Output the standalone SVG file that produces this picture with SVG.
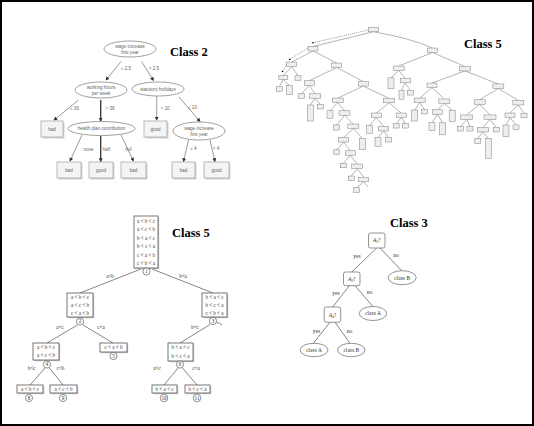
<svg xmlns="http://www.w3.org/2000/svg" width="534" height="426" viewBox="0 0 534 426">
<style>
.title{font-family:"Liberation Serif",serif;font-weight:bold;font-size:12.5px;fill:#000}
.c2t{font-family:"Liberation Sans",sans-serif;font-size:4.6px;fill:#666;text-anchor:middle}
.c2e{fill:#fff;stroke:#888;stroke-width:0.8}
.c2b{fill:#f4f4f4;stroke:#aaa;stroke-width:0.8}
.c2s{fill:#d4d4d4}
.c2l{stroke:#555;stroke-width:0.6;fill:none;marker-end:url(#arr)}
.c2k{stroke:#333;stroke-width:1.3;fill:none;marker-end:url(#arr)}
.t5 rect{fill:#eeeeee;stroke:#8a8a8a;stroke-width:0.55}
.t5e{stroke:#6a6a6a;stroke-width:0.5;fill:none}
.t5d{stroke:#555;stroke-width:0.6;stroke-dasharray:1 1;fill:none}
.st{font-family:"Liberation Serif",serif;font-size:5.1px;fill:#333;text-anchor:middle}
.sb{fill:#fff;stroke:#555;stroke-width:0.8}
.ss{fill:#c8c8c8}
.sc{fill:#fff;stroke:#444;stroke-width:0.6}
.sl{stroke:#444;stroke-width:0.65;fill:none}
.c3t{font-family:"Liberation Serif",serif;font-size:5.5px;fill:#333;text-anchor:middle}
.c3b{fill:#fff;stroke:#666;stroke-width:0.7}
.c3l{stroke:#333;stroke-width:0.6;fill:none}
</style>
<defs>
<marker id="arr" viewBox="0 0 6 6" refX="5" refY="3" markerWidth="4" markerHeight="4" orient="auto" markerUnits="userSpaceOnUse">
<path d="M0,0 L6,3 L0,6 z" fill="#333"/>
</marker>
</defs>
<rect x="1" y="1" width="532" height="424" fill="#fff" stroke="#000" stroke-width="2"/>

<!-- ============ Class 2 ============ -->
<text class="title" x="170" y="56">Class 2</text>
<g id="c2-edges">
<line class="c2l" x1="121" y1="61.5" x2="106" y2="80"/>
<line class="c2l" x1="141.5" y1="61.5" x2="153.5" y2="80.5"/>
<line class="c2l" x1="78.5" y1="100" x2="54" y2="120"/>
<line class="c2k" x1="100.7" y1="100" x2="100.7" y2="121"/>
<line class="c2l" x1="156.7" y1="96" x2="156.7" y2="120"/>
<line class="c2l" x1="179" y1="97" x2="200" y2="121.5"/>
<line class="c2l" x1="82" y1="135" x2="70" y2="161"/>
<line class="c2k" x1="100.7" y1="136" x2="100.7" y2="161.5"/>
<line class="c2l" x1="121" y1="135" x2="133.5" y2="161"/>
<line class="c2l" x1="188.5" y1="140" x2="183.5" y2="161.5"/>
<line class="c2l" x1="210" y1="140" x2="215" y2="161.5"/>
<text class="c2t" x="126" y="69.5">≤ 2.5</text>
<text class="c2t" x="154" y="69.5">&gt; 2.5</text>
<text class="c2t" x="74.5" y="109.5">≤ 36</text>
<text class="c2t" x="110" y="109.5">&gt; 36</text>
<text class="c2t" x="165" y="109.5">&gt; 10</text>
<text class="c2t" x="192.5" y="109">≤ 10</text>
<text class="c2t" x="88.5" y="150.5">none</text>
<text class="c2t" x="106.5" y="150.5">half</text>
<text class="c2t" x="128.5" y="150.5">full</text>
<text class="c2t" x="193.5" y="150">≤ 4</text>
<text class="c2t" x="216" y="150">&gt; 4</text>
</g>
<g id="c2-root"><ellipse class="c2e" cx="130" cy="49" rx="26" ry="8"/><text class="c2t" x="130" y="47.5">wage increase</text><text class="c2t" x="130" y="54">first year</text></g>
<g id="c2-hours"><ellipse class="c2e" cx="101" cy="90" rx="26" ry="8"/><text class="c2t" x="101" y="88.5">working hours</text><text class="c2t" x="101" y="95">per week</text></g>
<g id="c2-holidays"><ellipse class="c2e" cx="158" cy="89" rx="26" ry="7"/><text class="c2t" x="158" y="90.5">statutory holidays</text></g>
<g id="c2-bad1"><rect class="c2s" x="42.5" y="122.5" width="22" height="16"/><rect class="c2b" x="41" y="121" width="22" height="16"/><text class="c2t" x="52" y="130.5" font-size="5.2">bad</text></g>
<g id="c2-health"><ellipse class="c2e" cx="101.5" cy="128.5" rx="33.5" ry="7"/><text class="c2t" x="101.5" y="130">health plan contribution</text></g>
<g id="c2-good1"><rect class="c2s" x="145.5" y="122.5" width="23" height="16"/><rect class="c2b" x="144" y="121" width="23" height="16"/><text class="c2t" x="155.5" y="130.5" font-size="5.2">good</text></g>
<g id="c2-wage2"><ellipse class="c2e" cx="199" cy="131" rx="26" ry="9"/><text class="c2t" x="199" y="129.5">wage increase</text><text class="c2t" x="199" y="136">first year</text></g>
<g id="c2-bad2"><rect class="c2s" x="58.5" y="163.5" width="24" height="16"/><rect class="c2b" x="57" y="162" width="24" height="16"/><text class="c2t" x="69" y="171.5" font-size="5.2">bad</text></g>
<g id="c2-good2"><rect class="c2s" x="90.5" y="163.5" width="24" height="16"/><rect class="c2b" x="89" y="162" width="24" height="16"/><text class="c2t" x="101" y="171.5" font-size="5.2">good</text></g>
<g id="c2-bad3"><rect class="c2s" x="122.5" y="163.5" width="25" height="16"/><rect class="c2b" x="121" y="162" width="25" height="16"/><text class="c2t" x="133.5" y="171.5" font-size="5.2">bad</text></g>
<g id="c2-bad4"><rect class="c2s" x="173.5" y="163.5" width="23" height="16"/><rect class="c2b" x="172" y="162" width="23" height="16"/><text class="c2t" x="183.5" y="171.5" font-size="5.2">bad</text></g>
<g id="c2-good3"><rect class="c2s" x="205.5" y="163.5" width="25" height="16"/><rect class="c2b" x="204" y="162" width="25" height="16"/><text class="c2t" x="216.5" y="171.5" font-size="5.2">good</text></g>

<!-- ============ Class 5 (top right) ============ -->
<text class="title" x="464" y="48">Class 5</text>
<g id="t5-edges">
<path class="t5d" d="M368.5,30 L313,42.7 M308,48 L289.7,59.5 M286.7,64.5 L282.5,71.5"/>
<circle cx="313" cy="42.7" r="0.8" fill="#000"/>
<circle cx="289.7" cy="59.5" r="0.8" fill="#000"/>
<circle cx="282.5" cy="71.5" r="0.8" fill="#000"/>
<path class="t5e" d="
M373.5,31.75 L313,46.45 M373.5,31.75 Q410,38 432.5,48.05
M313,50.95 L291.7,62.05 M313,50.95 L336.7,63.05
M291.7,66.55 L283.3,75.5 M291.7,66.55 L298,75.75
M283.3,79.5 L279.3,86.75 M283.3,79.5 L289.5,85.5
M336.7,67.55 L309.3,80.75 M336.7,67.55 L363.3,81.55
M309.3,85.25 L301.7,93.75 M309.3,85.25 L315,93.75
M315,98.25 L310.3,105 M315,98.25 L320.3,104.45
M363.3,86.05 L337.8,98.05 M363.3,86.05 L389,98.25
M337.8,102.55 L330,110.75 M337.8,102.55 L344.5,110.75
M344.5,115.25 L336.7,125 M344.5,115.25 L353.3,124.05
M353.3,128.55 L343.7,137.55 M353.3,128.55 L362.3,138.3
M343.7,142.05 L336.7,149.75 M343.7,142.05 L350.3,150.75
M350.3,155.25 L343.3,163.25 M350.3,155.25 L357.2,164.05
M357.2,168.55 L351.3,176.05 M357.2,168.55 L363.7,177.25
M363.7,181.75 L356.7,187.75 M363.7,181.75 L368,187
M389,102.75 L376.3,113.05 M389,102.75 L401.3,113.05
M376.3,117.55 L369.7,125.2 M376.3,117.55 L383.7,126.45
M383.7,130.95 L378,137.5 M383.7,130.95 L388.7,137.55
M401.3,117.55 L396.2,123.55 M401.3,117.55 L405.3,123.55
M432.5,52.55 L398.7,66.05 M432.5,52.55 L465,66.45
M398.7,70.55 L391,77.8 M398.7,70.55 L405.3,78.25
M405.3,82.75 L401.5,90.2 M405.3,82.75 L410.3,90.55
M465,70.95 L432,83.05 M465,70.95 L498.3,83.95
M432,87.55 L419.7,98.05 M432,87.55 L444.3,98.95
M419.7,102.55 L414.7,110 M419.7,102.55 L424.5,109.45
M444.3,103.45 L437.5,109.75 M444.3,103.45 L452.2,110.3
M437.5,114.25 L432,122.7 M437.5,114.25 L442.5,122.8
M498.3,88.45 L479.7,99.75 M498.3,88.45 L518.3,100.45
M479.7,104.25 L466.7,114.95 M479.7,104.25 L490,114.95
M466.7,119.45 L460.7,126.55 M466.7,119.45 L470,126.55
M490,119.45 L482.8,127.45 M490,119.45 L496.3,127.45
M482.8,131.95 L477.8,138.3 M482.8,131.95 L488.3,138.3
M518.3,104.95 L510,113.05 M518.3,104.95 L524,113.25
M510,117.55 L506,125.05 M510,117.55 L516,124.95"/>
</g>
<g class="t5">
<g id="t5-R"><rect x="368.5" y="27.25" width="10" height="4.5"/></g>
<g id="t5-A"><rect x="308" y="46.45" width="10" height="4.5"/></g>
<g id="t5-B"><rect x="427.5" y="48.05" width="10" height="4.5"/></g>
<g id="t5-A1"><rect x="286.7" y="62.05" width="10" height="4.5"/></g>
<g id="t5-A2"><rect x="331.7" y="63.05" width="10" height="4.5"/></g>
<g id="t5-A1a"><rect x="278.8" y="75.5" width="9" height="4"/></g>
<g id="t5-A1b"><rect x="295" y="75.75" width="6" height="4.5"/></g>
<g id="t5-A1al"><rect x="276.3" y="86.75" width="6" height="4.5"/></g>
<g id="t5-A1ar"><rect x="286.5" y="85.5" width="6" height="9"/></g>
<g id="t5-A2a"><rect x="304.3" y="80.75" width="10" height="4.5"/></g>
<g id="t5-A2b"><rect x="358.3" y="81.55" width="10" height="4.5"/></g>
<g id="t5-A2al"><rect x="298.7" y="93.75" width="6" height="4.5"/></g>
<g id="t5-A2a2"><rect x="309.5" y="93.75" width="11" height="4.5"/></g>
<g id="t5-A2a2l"><rect x="307.3" y="105" width="6" height="16"/></g>
<g id="t5-A2a2r"><rect x="317.3" y="104.45" width="6" height="4.5"/></g>
<g id="t5-A2b1"><rect x="332.3" y="98.05" width="11" height="4.5"/></g>
<g id="t5-A2b2"><rect x="383.5" y="98.25" width="11" height="4.5"/></g>
<g id="t5-A2b1l"><rect x="327" y="110.75" width="6" height="7.5"/></g>
<g id="t5-A2b1b"><rect x="339" y="110.75" width="11" height="4.5"/></g>
<g id="t5-A2b1bl"><rect x="333.7" y="125" width="6" height="5"/></g>
<g id="t5-A2b1b2"><rect x="347.8" y="124.05" width="11" height="4.5"/></g>
<g id="t5-N1"><rect x="338.7" y="137.55" width="10" height="4.5"/></g>
<g id="t5-N1r"><rect x="359.3" y="138.3" width="6" height="11"/></g>
<g id="t5-N1l"><rect x="333.7" y="149.75" width="6" height="4.5"/></g>
<g id="t5-N2"><rect x="345.3" y="150.75" width="10" height="4.5"/></g>
<g id="t5-N2l"><rect x="340.3" y="163.25" width="6" height="4.5"/></g>
<g id="t5-N3"><rect x="351.7" y="164.05" width="11" height="4.5"/></g>
<g id="t5-N3l"><rect x="348.3" y="176.05" width="6" height="4.5"/></g>
<g id="t5-N4"><rect x="358.7" y="177.25" width="10" height="4.5"/></g>
<g id="t5-N4l"><rect x="353.7" y="187.75" width="6" height="4.5"/></g>
<g id="t5-M1"><rect x="371.3" y="113.05" width="10" height="4.5"/></g>
<g id="t5-M2"><rect x="396.3" y="113.05" width="10" height="4.5"/></g>
<g id="t5-M1l"><rect x="366.7" y="125.2" width="6" height="8"/></g>
<g id="t5-M1r"><rect x="378.7" y="126.45" width="10" height="4.5"/></g>
<g id="t5-M3l"><rect x="375" y="137.5" width="6" height="9"/></g>
<g id="t5-M3r"><rect x="385.7" y="137.55" width="6" height="4.5"/></g>
<g id="t5-M2l"><rect x="393.2" y="123.55" width="6" height="4.5"/></g>
<g id="t5-M2r"><rect x="402.3" y="123.55" width="6" height="4.5"/></g>
<g id="t5-B1"><rect x="393.2" y="66.05" width="11" height="4.5"/></g>
<g id="t5-B1l"><rect x="388" y="77.8" width="6" height="11"/></g>
<g id="t5-B1b"><rect x="400.3" y="78.25" width="10" height="4.5"/></g>
<g id="t5-B1bl"><rect x="399" y="90.2" width="5" height="9"/></g>
<g id="t5-B1br"><rect x="407.3" y="90.55" width="6" height="4.5"/></g>
<g id="t5-B2"><rect x="459.5" y="66.45" width="11" height="4.5"/></g>
<g id="t5-B2a"><rect x="427" y="83.05" width="10" height="4.5"/></g>
<g id="t5-B2b"><rect x="492.8" y="83.95" width="11" height="4.5"/></g>
<g id="t5-C1"><rect x="414.2" y="98.05" width="11" height="4.5"/></g>
<g id="t5-C2"><rect x="438.8" y="98.95" width="11" height="4.5"/></g>
<g id="t5-C1l"><rect x="411.7" y="110" width="6" height="11"/></g>
<g id="t5-C1r"><rect x="421.5" y="109.45" width="6" height="4.5"/></g>
<g id="t5-C3"><rect x="432.5" y="109.75" width="10" height="4.5"/></g>
<g id="t5-C2r"><rect x="449.2" y="110.3" width="6" height="11"/></g>
<g id="t5-C3l"><rect x="429" y="122.7" width="6" height="8"/></g>
<g id="t5-C3r"><rect x="439.5" y="122.8" width="6" height="12"/></g>
<g id="t5-D1"><rect x="474.2" y="99.75" width="11" height="4.5"/></g>
<g id="t5-D2"><rect x="512.8" y="100.45" width="11" height="4.5"/></g>
<g id="t5-D3"><rect x="460.7" y="114.95" width="12" height="4.5"/></g>
<g id="t5-D4"><rect x="484" y="114.95" width="12" height="4.5"/></g>
<g id="t5-D3l"><rect x="457.7" y="126.55" width="6" height="4.5"/></g>
<g id="t5-D3r"><rect x="467" y="126.55" width="6" height="4.5"/></g>
<g id="t5-D5"><rect x="477.3" y="127.45" width="11" height="4.5"/></g>
<g id="t5-D4r"><rect x="493.3" y="127.45" width="6" height="4.5"/></g>
<g id="t5-D5l"><rect x="474.8" y="138.3" width="6" height="5"/></g>
<g id="t5-D5r"><rect x="485.3" y="138.3" width="6" height="20"/></g>
<g id="t5-D6"><rect x="505" y="113.05" width="10" height="4.5"/></g>
<g id="t5-D2r"><rect x="521" y="113.25" width="6" height="4.5"/></g>
<g id="t5-D6l"><rect x="503" y="125.05" width="6" height="11.5"/></g>
<g id="t5-D6r"><rect x="513" y="124.95" width="6" height="4.5"/></g>
</g>

<!-- ============ Class 5 (bottom left) ============ -->
<text class="title" x="172" y="237">Class 5</text>
<g id="s-edges">
<line class="sl" x1="141" y1="269" x2="80" y2="293"/>
<line class="sl" x1="152" y1="269" x2="213" y2="293"/>
<line class="sl" x1="77.5" y1="325" x2="47" y2="343"/>
<line class="sl" x1="83" y1="325" x2="113" y2="343"/>
<line class="sl" x1="210" y1="324.5" x2="180" y2="343"/>
<path class="sl" d="M216.5,322.5 Q219.5,322.5 222,325"/>
<line class="sl" x1="45" y1="368" x2="30" y2="385"/>
<line class="sl" x1="49.5" y1="368" x2="63" y2="385"/>
<line class="sl" x1="178" y1="368" x2="164" y2="385"/>
<line class="sl" x1="182.5" y1="368" x2="197" y2="385"/>
<text class="st" x="110" y="278">a&lt;b</text>
<text class="st" x="183" y="278">b&lt;a</text>
<text class="st" x="60" y="328.5">a&lt;c</text>
<text class="st" x="101" y="328.5">c&lt;a</text>
<text class="st" x="195" y="328.5">b&lt;c</text>
<text class="st" x="31.5" y="370">b&lt;c</text>
<text class="st" x="60.5" y="370">c&lt;b</text>
<text class="st" x="157" y="370">a&lt;c</text>
<text class="st" x="196" y="370">c&lt;a</text>
</g>
<g id="s-n1">
<rect class="ss" x="135.2" y="217.2" width="24" height="52"/>
<rect class="sb" x="134" y="216" width="24" height="52"/>
<text class="st" x="146" y="222.5">a &lt; b &lt; c</text>
<text class="st" x="146" y="231">a &lt; c &lt; b</text>
<text class="st" x="146" y="239.5">b &lt; a &lt; c</text>
<text class="st" x="146" y="248">b &lt; c &lt; a</text>
<text class="st" x="146" y="256.5">c &lt; a &lt; b</text>
<text class="st" x="146" y="265">c &lt; b &lt; a</text>
<circle class="sc" cx="146.5" cy="271.5" r="3.6"/><text class="st" x="146.5" y="273.2">1</text>
</g>
<g id="s-n2">
<rect class="ss" x="68.2" y="294.2" width="26" height="24"/>
<rect class="sb" x="67" y="293" width="26" height="24"/>
<text class="st" x="80" y="299">a &lt; b &lt; c</text>
<text class="st" x="80" y="306.5">a &lt; c &lt; b</text>
<text class="st" x="80" y="314.5">c &lt; a &lt; b</text>
<circle class="sc" cx="80" cy="321.5" r="3.6"/><text class="st" x="80" y="323.2">2</text>
</g>
<g id="s-n3">
<rect class="ss" x="203.2" y="294.2" width="25" height="24"/>
<rect class="sb" x="202" y="293" width="25" height="24"/>
<text class="st" x="214.5" y="299">b &lt; a &lt; c</text>
<text class="st" x="214.5" y="306.5">b &lt; c &lt; a</text>
<text class="st" x="214.5" y="314.5">c &lt; b &lt; a</text>
<circle class="sc" cx="213" cy="321" r="3.6"/><text class="st" x="213" y="322.7">3</text>
</g>
<g id="s-n4">
<rect class="ss" x="34.2" y="344.2" width="26" height="17"/>
<rect class="sb" x="33" y="343" width="26" height="17"/>
<text class="st" x="46" y="349">a &lt; b &lt; c</text>
<text class="st" x="46" y="357">a &lt; c &lt; b</text>
<circle class="sc" cx="47" cy="364.5" r="3.6"/><text class="st" x="47" y="366.2">4</text>
</g>
<g id="s-n5">
<rect class="ss" x="101.2" y="344.2" width="27" height="9"/>
<rect class="sb" x="100" y="343" width="27" height="9"/>
<text class="st" x="113.5" y="349.3">c &lt; a &lt; b</text>
<circle class="sc" cx="113.5" cy="356" r="3.6"/><text class="st" x="113.5" y="357.7">5</text>
</g>
<g id="s-n6">
<rect class="ss" x="169.2" y="344.2" width="25" height="18"/>
<rect class="sb" x="168" y="343" width="25" height="18"/>
<text class="st" x="180.5" y="349">b &lt; a &lt; c</text>
<text class="st" x="180.5" y="357.5">b &lt; c &lt; a</text>
<circle class="sc" cx="180" cy="364.5" r="3.6"/><text class="st" x="180" y="366.2">6</text>
</g>
<g id="s-n8">
<rect class="ss" x="18.2" y="386.2" width="26" height="8"/>
<rect class="sb" x="17" y="385" width="26" height="8"/>
<text class="st" x="30" y="390.8">a &lt; b &lt; c</text>
<circle class="sc" cx="29" cy="398" r="3.6"/><text class="st" x="29" y="399.7">8</text>
</g>
<g id="s-n9">
<rect class="ss" x="51.2" y="386.2" width="27" height="8"/>
<rect class="sb" x="50" y="385" width="27" height="8"/>
<text class="st" x="63.5" y="390.8">a &lt; c &lt; b</text>
<circle class="sc" cx="63" cy="398" r="3.6"/><text class="st" x="63" y="399.7">9</text>
</g>
<g id="s-n10">
<rect class="ss" x="153.2" y="386.2" width="25" height="8"/>
<rect class="sb" x="152" y="385" width="25" height="8"/>
<text class="st" x="164.5" y="390.8">b &lt; a &lt; c</text>
<circle class="sc" cx="164" cy="398" r="3.8"/><text class="st" x="164" y="399.7">10</text>
</g>
<g id="s-n11">
<rect class="ss" x="186.2" y="386.2" width="25" height="8"/>
<rect class="sb" x="185" y="385" width="25" height="8"/>
<text class="st" x="197.5" y="390.8">b &lt; c &lt; a</text>
<circle class="sc" cx="197" cy="398" r="3.8"/><text class="st" x="197" y="399.7">11</text>
</g>

<!-- ============ Class 3 ============ -->
<text class="title" x="390" y="227">Class 3</text>
<g id="c3-edges">
<line class="c3l" x1="376.7" y1="248" x2="351.7" y2="272"/>
<line class="c3l" x1="380" y1="248" x2="401.7" y2="270.7"/>
<line class="c3l" x1="349.3" y1="285.7" x2="332.7" y2="307"/>
<line class="c3l" x1="355" y1="285.7" x2="372.7" y2="306.3"/>
<line class="c3l" x1="330" y1="322.3" x2="313.3" y2="343.3"/>
<line class="c3l" x1="335" y1="322.3" x2="350" y2="343.3"/>
<text class="c3t" x="357" y="258">yes</text>
<text class="c3t" x="396" y="256.5">no</text>
<text class="c3t" x="336" y="294.5">yes</text>
<text class="c3t" x="369.5" y="294">no</text>
<text class="c3t" x="316.5" y="333">yes</text>
<text class="c3t" x="349.5" y="333">no</text>
</g>
<g id="c3-a1"><rect class="c3b" x="368.5" y="233" width="16.5" height="15" rx="2"/><text class="c3t" x="376.7" y="242.3"><tspan font-style="italic">A</tspan><tspan font-size="3.6" dy="1">1</tspan><tspan dy="-1">?</tspan></text></g>
<g id="c3-a2"><rect class="c3b" x="343.5" y="272" width="16.5" height="13.7" rx="2"/><text class="c3t" x="351.7" y="280.8"><tspan font-style="italic">A</tspan><tspan font-size="3.6" dy="1">2</tspan><tspan dy="-1">?</tspan></text></g>
<g id="c3-a4"><rect class="c3b" x="324.2" y="307" width="16.5" height="15.3" rx="2"/><text class="c3t" x="332.5" y="316.5"><tspan font-style="italic">A</tspan><tspan font-size="3.6" dy="1">4</tspan><tspan dy="-1">?</tspan></text></g>
<g id="c3-b1"><ellipse class="c3b" cx="402.2" cy="277.7" rx="14" ry="7"/><text class="c3t" x="402.2" y="279.5">class B</text></g>
<g id="c3-a-mid"><ellipse class="c3b" cx="373" cy="313.5" rx="13.7" ry="7"/><text class="c3t" x="373" y="315.3">class A</text></g>
<g id="c3-a-bot"><ellipse class="c3b" cx="314" cy="350" rx="14" ry="6.7"/><text class="c3t" x="314" y="351.8">class A</text></g>
<g id="c3-b-bot"><ellipse class="c3b" cx="351.3" cy="350" rx="13.7" ry="6.7"/><text class="c3t" x="351.3" y="351.8">class B</text></g>
</svg>
